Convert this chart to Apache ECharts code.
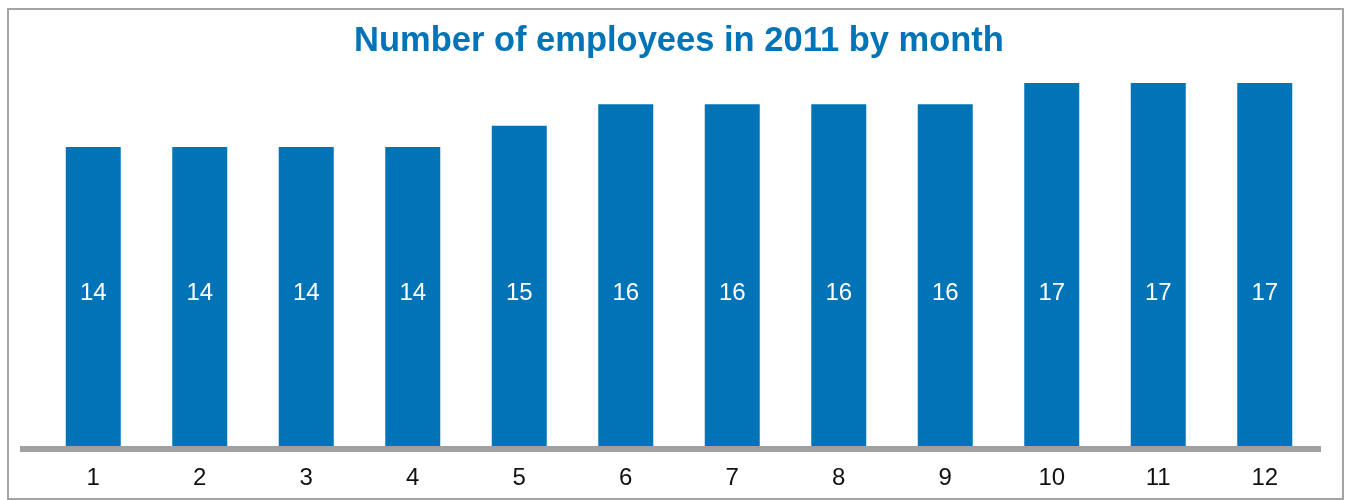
<!DOCTYPE html>
<html>
<head>
<meta charset="utf-8">
<script src="https://cdn.jsdelivr.net/npm/echarts@6/dist/echarts.min.js"></script>
<style>
  html, body { margin: 0; padding: 0; background: #fff; }
  #wrap { position: relative; width: 1348px; height: 500px; overflow: hidden; }
  #chart { position: absolute; left: 0; top: 0; width: 1348px; height: 500px; }
  #frame { position: absolute; left: 7px; top: 8px; width: 1337px; height: 492px;
           box-sizing: border-box; border: 2px solid #a3a3a3; pointer-events: none; }
</style>
</head>
<body>
<div id="wrap">
  <div id="chart"></div>
  <div id="frame"></div>
</div>
<script>
const titleText = 'Number of employees in 2011 by month';
const months = ['1', '2', '3', '4', '5', '6', '7', '8', '9', '10', '11', '12'];
const employees = [14, 14, 14, 14, 15, 16, 16, 16, 16, 17, 17, 17];

const BLUE = '#0074b7';
const GREY = '#a0a0a0';
const FONT = '"Liberation Sans", Arial, Helvetica, sans-serif';

const chart = echarts.init(document.getElementById('chart'), null, { renderer: 'canvas' });
chart.setOption({
  animation: false,
  backgroundColor: '#fff',
  title: {
    text: titleText,
    left: 349,
    top: 19,
    textStyle: { color: BLUE, fontSize: 34.5, fontWeight: 'bold', fontFamily: FONT }
  },
  grid: [
    { left: 40, right: 30, top: 83, bottom: 54, containLabel: false },
    { left: 20, right: 27, top: 83, bottom: 51, containLabel: false }
  ],
  xAxis: [
    {
      type: 'category',
      gridIndex: 0,
      data: months,
      axisLine: { show: false },
      axisTick: { show: false },
      axisLabel: { color: '#111', fontSize: 24, fontFamily: FONT, margin: 20 }
    },
    {
      type: 'category',
      gridIndex: 1,
      data: [],
      axisLine: { show: true, lineStyle: { color: GREY, width: 6, cap: 'butt' } },
      axisTick: { show: false },
      axisLabel: { show: false }
    }
  ],
  yAxis: [
    { type: 'value', gridIndex: 0, min: 0, max: 17, show: false, splitLine: { show: false } },
    { type: 'value', gridIndex: 1, min: 0, max: 1, show: false, splitLine: { show: false } }
  ],
  series: [
    {
      type: 'bar',
      xAxisIndex: 0,
      yAxisIndex: 0,
      data: employees,
      barWidth: 55,
      z: 5,
      itemStyle: { color: BLUE },
      label: {
        show: true,
        position: 'insideBottom',
        distance: 141,
        color: '#fff',
        fontSize: 24,
        fontFamily: FONT
      }
    }
  ]
});
</script>
</body>
</html>
